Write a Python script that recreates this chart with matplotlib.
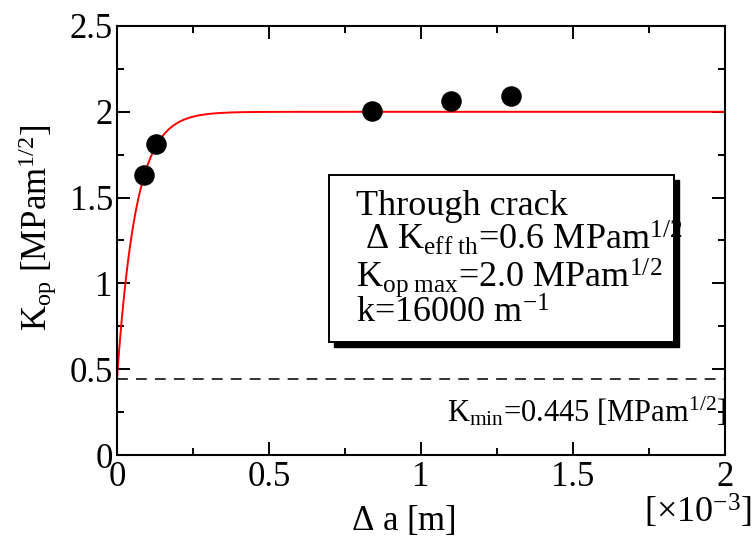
import numpy as np
import matplotlib
matplotlib.use("Agg")
import matplotlib.pyplot as plt
from matplotlib.patches import Rectangle

plt.rcParams['font.family'] = ['Liberation Serif', 'DejaVu Serif']
plt.rcParams['mathtext.fontset'] = 'custom'
plt.rcParams['mathtext.rm'] = 'Liberation Serif'
plt.rcParams['mathtext.it'] = 'Liberation Serif:italic'

# measured data (x in 1e-3 m)
da_meas = [0.089, 0.128, 0.839, 1.099, 1.296]
kop_meas = [1.63, 1.81, 2.005, 2.063, 2.092]

# model parameters from annotation
K_min = 0.445
K_op_max = 2.0
k_rate = 16000.0  # 1/m

x_curve = np.linspace(0, 2.0, 400)
y_curve = K_op_max - (K_op_max - K_min) * np.exp(-k_rate * x_curve * 1e-3)

W, H = 756, 540
fig = plt.figure(figsize=(7.56, 5.4), dpi=100)
ax = fig.add_axes([117/W, 1 - 455/H, (725-117)/W, (455-26)/H])

ax.plot(x_curve, y_curve, color='red', lw=1.4, zorder=2)
ax.axhline(K_min, color='#222222', lw=1.3, ls=(0, (6, 4.5)), zorder=1)
ax.scatter(da_meas, kop_meas, s=190, color='black', zorder=3)

ax.set_xlim(0, 2)
ax.set_ylim(0, 2.5)
ax.set_xticks([0, 0.5, 1, 1.5, 2])
ax.set_xticklabels(['0', '0.5', '1', '1.5', '2'])
ax.set_yticks([0, 0.5, 1, 1.5, 2, 2.5])
ax.set_yticklabels(['0', '0.5', '1', '1.5', '2', '2.5'])
ax.set_xticks([0.25, 0.75, 1.25, 1.75], minor=True)
ax.set_yticks([0.25, 0.75, 1.25, 1.75, 2.25], minor=True)
ax.tick_params(which='both', direction='in', top=True, right=True, width=1.4)
ax.tick_params(which='major', length=9.5, labelsize=25)
ax.tick_params(axis='y', which='major', pad=3)
ax.tick_params(axis='x', which='major', pad=4)
ax.tick_params(which='minor', length=5)
for s in ax.spines.values():
    s.set_linewidth(1.5)

fig.text(403/W, 1 - 530/H, r'$\Delta$ a [m]', fontsize=25, ha='center', va='baseline')
fig.text(38/W, 1 - 228/H, r'K$_\mathrm{op}$ [MPam$^{1/2}$]', fontsize=25,
         rotation=90, ha='center', va='center')

fig.text(752/W, 1 - 523/H, r'[$\times$10$^{-3}$]', fontsize=26, ha='right', va='baseline')

fig.text(726/W, 1 - 422/H, r'K$_\mathrm{min}$=0.445 [MPam$^{1/2}$]', fontsize=22,
         ha='right', va='baseline')

# annotation box with shadow
bx0, by0 = 329/W, 1 - 342/H
bw, bh = (674-329)/W, (342-175)/H
shadow = Rectangle((bx0 + 5/W, by0 - 5/H), bw, bh, transform=fig.transFigure,
                   facecolor='black', edgecolor='black', zorder=5)
box = Rectangle((bx0, by0), bw, bh, transform=fig.transFigure,
                facecolor='white', edgecolor='black', lw=1.4, zorder=6)
fig.add_artist(shadow)
fig.add_artist(box)

lines = ['Through crack',
         r' $\Delta$ K$_\mathrm{eff\ th}$=0.6 MPam$^{1/2}$',
         r'K$_\mathrm{op\ max}$=2.0 MPam$^{1/2}$',
         r'k=16000 m$^{-1}$']
ys = [215, 250, 287, 323]
for t, yy in zip(lines, ys):
    fig.text(356/W, 1 - yy/H, t, fontsize=26, ha='left', va='baseline', zorder=7)

fig.savefig('out.png', dpi=100)
